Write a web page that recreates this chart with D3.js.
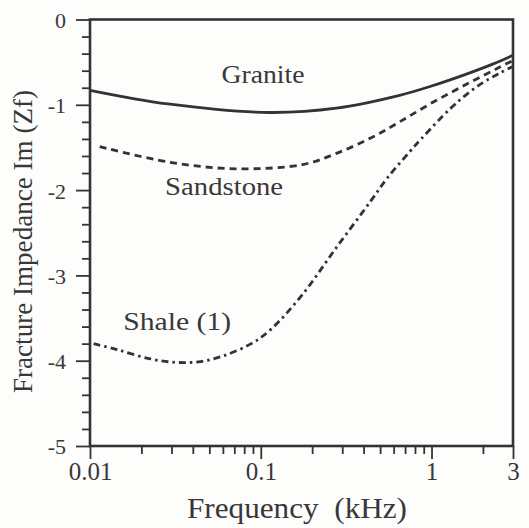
<!DOCTYPE html>
<html>
<head>
<meta charset="utf-8">
<script src="https://cdn.jsdelivr.net/npm/d3@7/dist/d3.min.js"></script>
<style>
  html, body { margin: 0; padding: 0; background: #fdfdfc; }
  svg { display: block; }
</style>
</head>
<body>
<svg id="chart" width="529" height="528"></svg>
<script>
// Frequency in kHz, imaginary part of fracture impedance
const graniteFreq = [0.01, 0.0286, 0.112, 0.277, 0.65, 1.0, 1.6, 2.3, 3.0];
const graniteIm   = [-0.83, -0.99, -1.09, -1.04, -0.89, -0.78, -0.64, -0.52, -0.42];

const sandstoneFreq = [0.0114, 0.0286, 0.071, 0.176, 0.277, 0.44, 0.65, 1.0, 1.6, 2.5, 3.0];
const sandstoneIm   = [-1.49, -1.67, -1.75, -1.70, -1.57, -1.39, -1.20, -0.98, -0.76, -0.56, -0.48];

const shaleFreq = [0.0105, 0.0144, 0.0227, 0.0324, 0.0446, 0.061, 0.088, 0.115, 0.176, 0.278, 0.44, 0.55, 0.745, 0.87, 1.28, 1.6, 2.0, 2.5, 3.0];
const shaleIm   = [-3.80, -3.87, -3.98, -4.02, -4.01, -3.94, -3.80, -3.63, -3.22, -2.67, -2.13, -1.86, -1.55, -1.40, -1.05, -0.88, -0.74, -0.63, -0.55];

const seriesNames = ["Granite", "Sandstone", "Shale (1)"];
// label anchors in data units (frequency, Im)
const labelFreq = [0.103, 0.061, 0.0324];
const labelIm   = [-0.745, -2.06, -3.64];

const xTickValues = [0.01, 0.1, 1, 3];
const xTickLabels = ["0.01", "0.1", "1", "3"];
const yTickValues = [0, -1, -2, -3, -4, -5];
const yTickLabels = ["0", "-1", "-2", "-3", "-4", "-5"];

const font = "'Liberation Serif', Tinos, 'Times New Roman', 'DejaVu Serif', serif";
const ink = "#333333";
const txt = "#383838";
const svg = d3.select("#chart");
const margin = { left: 90, right: 16, top: 19.5, bottom: 82 };
const W = 529, H = 528;

const x = d3.scaleLog().domain([0.01, 3]).range([margin.left, W - margin.right]);
const y = d3.scaleLinear().domain([-5, 0]).range([H - margin.bottom, margin.top]);

// minor ticks: 2..9 in each decade, 0.2 steps on the y axis
const xMinor = [];
[0.01, 0.1, 1].forEach(d => { for (let k = 2; k <= 9; k++) { const v = d * k; if (v < 3) xMinor.push(v); } });
const yMinor = d3.range(-5, 0.001, 0.2).map(v => +v.toFixed(1)).filter(v => Math.abs(v - Math.round(v)) > 1e-6);

const g = svg.append("g");

// x axis (bottom)
const xAxis = g.append("g").attr("transform", `translate(0,${y(-5)})`);
xAxis.call(d3.axisBottom(x).tickValues(xMinor).tickSize(8).tickFormat(""));
xAxis.append("g").call(d3.axisBottom(x).tickValues(xTickValues).tickSize(13).tickFormat((d, i) => xTickLabels[i]));
xAxis.selectAll(".domain").remove();
xAxis.selectAll("line").attr("stroke", ink).attr("stroke-width", 1.8);
xAxis.selectAll("text").attr("font-size", 25).attr("y", 34).attr("dy", 0).attr("fill", txt)
  .style("font-family", font);

// y axis (left)
const yAxis = g.append("g").attr("transform", `translate(${x(0.01)},0)`);
yAxis.call(d3.axisLeft(y).tickValues(yMinor).tickSize(8).tickFormat(""));
yAxis.append("g").call(d3.axisLeft(y).tickValues(yTickValues).tickSize(14).tickFormat((d, i) => yTickLabels[i]));
yAxis.selectAll(".domain").remove();
yAxis.selectAll("line").attr("stroke", ink).attr("stroke-width", 1.8);
yAxis.selectAll("text").attr("font-size", 22).attr("x", -24).attr("dy", "0.36em").attr("fill", txt)
  .style("font-family", font);

// frame
g.append("rect")
  .attr("x", x(0.01)).attr("y", y(0))
  .attr("width", x(3) - x(0.01)).attr("height", y(-5) - y(0))
  .attr("fill", "none").attr("stroke", ink).attr("stroke-width", 2.6);

const line = d3.line().x(d => x(d[0])).y(d => y(d[1])).curve(d3.curveCatmullRom.alpha(0.5));

const curves = [
  { f: graniteFreq, v: graniteIm, dash: null },
  { f: sandstoneFreq, v: sandstoneIm, dash: "7,5" },
  { f: shaleFreq, v: shaleIm, dash: "7,4,2.5,4" }
];
curves.forEach(c => {
  g.append("path")
    .datum(d3.zip(c.f, c.v))
    .attr("d", line)
    .attr("fill", "none")
    .attr("stroke", ink)
    .attr("stroke-width", 2.8)
    .attr("stroke-dasharray", c.dash);
});

// series labels, fitted to their printed widths
const labelWidths = [83, 118, 108];
seriesNames.forEach((name, i) => {
  g.append("text")
    .attr("x", x(labelFreq[i])).attr("y", y(labelIm[i]))
    .attr("text-anchor", "middle").attr("font-size", 26)
    .attr("textLength", labelWidths[i]).attr("lengthAdjust", "spacingAndGlyphs")
    .attr("fill", txt).style("font-family", font)
    .text(name);
});

// axis titles
g.append("text")
  .attr("x", 297).attr("y", 518)
  .attr("text-anchor", "middle").attr("font-size", 30)
  .attr("textLength", 220).attr("lengthAdjust", "spacingAndGlyphs")
  .attr("fill", txt).style("font-family", font)
  .style("white-space", "pre")
  .text("Frequency  (kHz)");

g.append("text")
  .attr("transform", `translate(32,241.5) rotate(-90)`)
  .attr("text-anchor", "middle").attr("font-size", 27)
  .attr("textLength", 303).attr("lengthAdjust", "spacingAndGlyphs")
  .attr("fill", txt).style("font-family", font)
  .text("Fracture Impedance Im (Zf)");
</script>
</body>
</html>
